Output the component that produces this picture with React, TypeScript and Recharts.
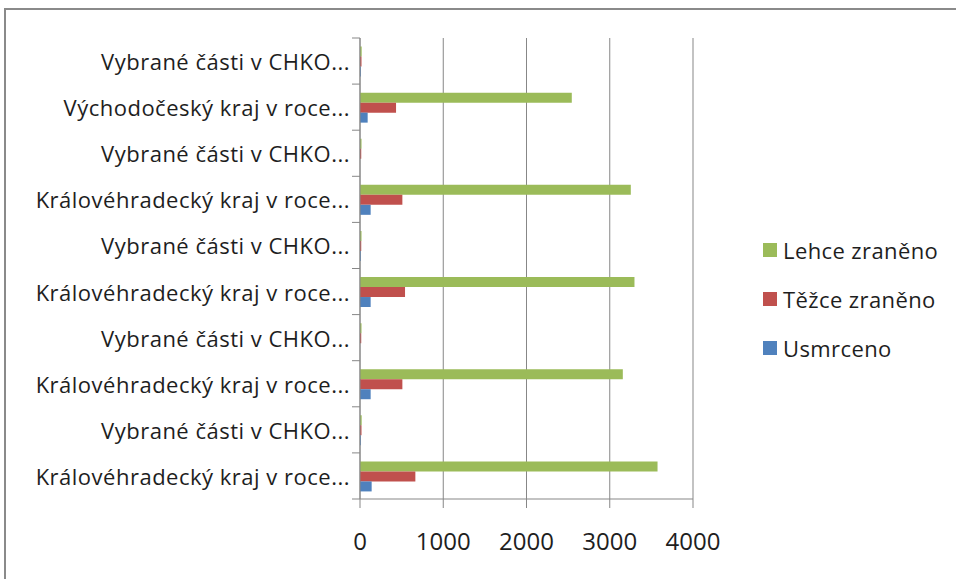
import { BarChart, Bar, XAxis, YAxis, CartesianGrid } from 'recharts';

const categories = [
  'Královéhradecký kraj v roce...',
  'Vybrané části v CHKO...',
  'Královéhradecký kraj v roce...',
  'Vybrané části v CHKO...',
  'Královéhradecký kraj v roce...',
  'Vybrané části v CHKO...',
  'Královéhradecký kraj v roce...',
  'Vybrané části v CHKO...',
  'Východočeský kraj v roce...',
  'Vybrané části v CHKO...',
];
const usmrceno = [140, 10, 128, 0, 128, 10, 128, 0, 92, 10];
const tezce = [665, 18, 509, 15, 541, 15, 509, 15, 433, 18];
const lehce = [3574, 20, 3157, 18, 3297, 18, 3253, 18, 2544, 20];
const xTicks = [0, 1000, 2000, 3000, 4000];

const SERIES = [
  { key: 'Lehce zraněno', color: '#9BBB59' },
  { key: 'Těžce zraněno', color: '#C0504D' },
  { key: 'Usmrceno', color: '#4F81BD' },
];

const FONT = '"Open Sans", "Noto Sans", sans-serif';
const AXIS = '#878787';
const TOP = 38;
const BOTTOM = 499;
const AXIS_X = 360;
const BAND = (BOTTOM - TOP) / categories.length;

const data = categories.map((name, i) => ({
  id: i,
  name,
  'Lehce zraněno': lehce[i],
  'Těžce zraněno': tezce[i],
  Usmrceno: usmrceno[i],
}));

// category label centred on the band, tick marks on the band edges
function CatTick(props: any) {
  const { y, payload, index } = props;
  return (
    <g>
      <text
        x={AXIS_X - 10}
        y={y}
        textAnchor="end"
        dominantBaseline="central"
        fill="#1e1e1e"
        fontSize={22}
        letterSpacing={0.5}
        fontFamily={FONT}
      >
        {categories[payload.value]}
      </text>
      <line x1={AXIS_X - 8} x2={AXIS_X} y1={y + BAND / 2} y2={y + BAND / 2} stroke={AXIS} />
      {index === categories.length - 1 && (
        <line x1={AXIS_X - 8} x2={AXIS_X} y1={y - BAND / 2} y2={y - BAND / 2} stroke={AXIS} />
      )}
    </g>
  );
}

export default function App() {
  return (
    <div style={{ position: 'absolute', left: 0, top: 0, width: 956, height: 579, background: '#fff', overflow: 'hidden' }}>
      <div style={{ position: 'absolute', left: 4, top: 8, width: 1000, height: 1000, border: '2px solid #8a8a8a' }} />
      <BarChart
        width={956}
        height={579}
        data={data}
        layout="vertical"
        margin={{ top: TOP, right: 263, left: 0, bottom: 0 }}
        barCategoryGap="18.5%"
        barGap={0}
        style={{ position: 'absolute', left: 0, top: 0 }}
      >
        <CartesianGrid horizontal={false} stroke={AXIS} />
        <XAxis
          type="number"
          domain={[0, 4000]}
          ticks={xTicks}
          height={80}
          stroke={AXIS}
          tickSize={9}
          tickMargin={25}
          tick={{ fill: '#1e1e1e', fontSize: 24, fontFamily: FONT }}
        />
        <YAxis
          type="category"
          dataKey="id"
          reversed
          width={AXIS_X}
          stroke={AXIS}
          tickLine={false}
          interval={0}
          tick={<CatTick />}
        />
        {SERIES.map((s) => (
          <Bar key={s.key} dataKey={s.key} fill={s.color} isAnimationActive={false} />
        ))}
      </BarChart>
      {/* legend, stacked to the right of the plot */}
      <div
        style={{
          position: 'absolute',
          left: 763,
          top: 225,
          fontFamily: FONT,
          fontSize: 22,
          letterSpacing: 0.4,
          color: '#1e1e1e',
        }}
      >
        {SERIES.map((s) => (
          <div key={s.key} style={{ display: 'flex', alignItems: 'center', height: 49 }}>
            <span style={{ width: 14, height: 14, background: s.color, marginRight: 6, display: 'inline-block' }} />
            {s.key}
          </div>
        ))}
      </div>
    </div>
  );
}
